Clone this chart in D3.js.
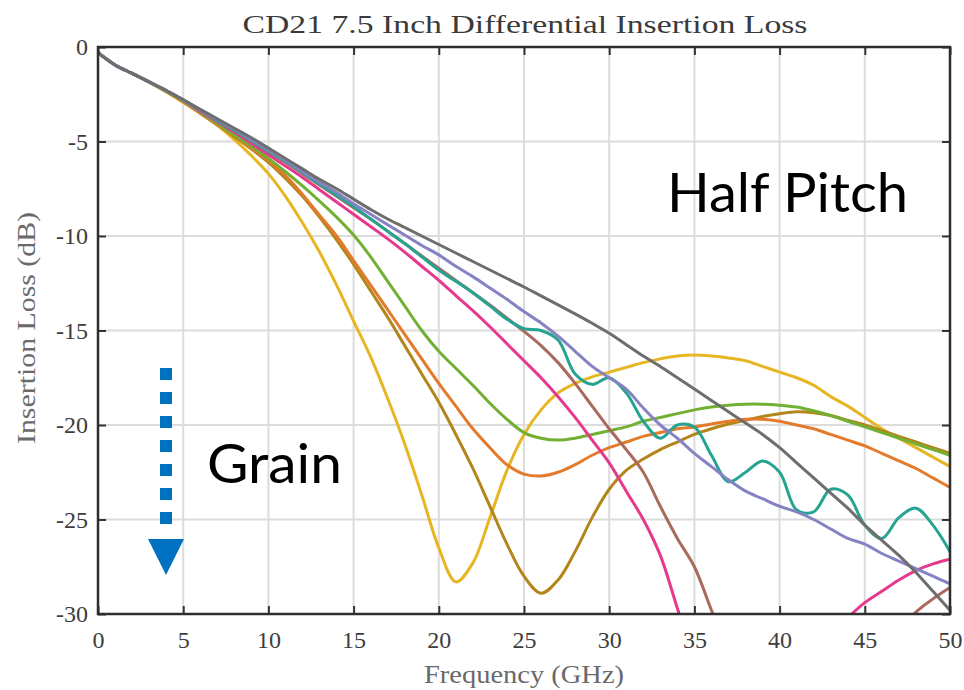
<!DOCTYPE html>
<html>
<head>
<meta charset="utf-8">
<script src="https://cdn.jsdelivr.net/npm/d3@7"></script>
<style>
  html, body { margin: 0; padding: 0; background: #ffffff; }
  svg { display: block; }
</style>
</head>
<body>
<svg id="chart" width="964" height="690"></svg>
<script>
// Frequency grid (GHz) shared by every trace
const frequency = [0,1,2,3,4,5,6,7,8,9,10,11,12,13,14,15,16,17,18,19,20,
  21,22,23,24,25,26,27,28,29,30,31,32,33,34,35,36,37,38,39,40,
  41,42,43,44,45,46,47,48,49,50];

// Insertion loss (dB) of each trace at the frequencies above
const lossGray = [-0.3,-0.95,-1.4,-1.85,-2.3,-2.8,-3.3,-3.8,-4.3,-4.8,
  -5.35,-5.9,-6.45,-7.0,-7.5,-8.05,-8.6,-9.1,-9.55,-10.0,
  -10.45,-10.9,-11.35,-11.8,-12.25,-12.7,-13.17,-13.64,-14.12,-14.62,
  -15.15,-15.75,-16.35,-16.9,-17.5,-18.1,-18.7,-19.3,-19.9,-20.5,
  -21.2,-22.0,-22.8,-23.6,-24.4,-25.3,-26.1,-26.9,-27.8,-28.8,-29.8];
const lossPurple = [-0.3,-0.95,-1.4,-1.85,-2.3,-2.8,-3.35,-3.85,-4.35,-4.9,
  -5.45,-6.0,-6.6,-7.15,-7.7,-8.3,-8.85,-9.4,-9.95,-10.5,
  -11.0,-11.6,-12.15,-12.75,-13.35,-14.0,-14.6,-15.3,-16.1,-16.9,
  -17.5,-18.1,-19.1,-20.0,-20.7,-21.5,-22.2,-22.9,-23.5,-23.9,
  -24.3,-24.6,-25.0,-25.5,-26.0,-26.3,-26.8,-27.2,-27.6,-28.0,-28.4];
const lossTeal = [-0.3,-0.95,-1.4,-1.85,-2.3,-2.8,-3.35,-3.9,-4.4,-4.95,
  -5.5,-6.05,-6.65,-7.25,-7.85,-8.45,-9.1,-9.75,-10.4,-11.1,
  -11.8,-12.4,-13.0,-13.7,-14.4,-14.9,-15.0,-15.5,-17.3,-17.85,
  -17.5,-18.3,-19.8,-20.7,-20.0,-20.1,-21.6,-23.0,-22.5,-21.9,
  -22.5,-24.5,-24.6,-23.4,-23.7,-25.3,-26.0,-24.9,-24.4,-25.3,-26.7];
const lossBrown = [-0.3,-0.95,-1.4,-1.85,-2.3,-2.8,-3.35,-3.9,-4.4,-4.98,
  -5.55,-6.1,-6.7,-7.3,-7.9,-8.5,-9.1,-9.75,-10.4,-11.05,
  -11.7,-12.35,-13.0,-13.65,-14.35,-15.05,-15.8,-16.7,-17.8,-19.0,
  -20.2,-21.3,-22.5,-24.3,-26.0,-27.5,-29.8,-32.0,-34.0,-35.5,
  -36.5,-37.0,-37.0,-36.0,-35.0,-33.5,-32.2,-31.0,-29.9,-29.2,-28.6];
const lossPink = [-0.3,-0.95,-1.4,-1.85,-2.3,-2.8,-3.4,-3.95,-4.5,-5.1,
  -5.7,-6.3,-6.9,-7.55,-8.2,-8.85,-9.5,-10.15,-10.85,-11.6,
  -12.35,-13.15,-13.95,-14.8,-15.7,-16.6,-17.5,-18.5,-19.6,-20.8,
  -22.0,-23.5,-25.0,-26.9,-29.7,-32.5,-34.0,-35.0,-35.5,-35.3,
  -34.5,-33.4,-32.2,-31.1,-30.2,-29.4,-28.8,-28.2,-27.7,-27.35,-27.1];
const lossGreen = [-0.3,-0.95,-1.4,-1.85,-2.35,-2.85,-3.45,-4.05,-4.65,-5.25,
  -5.9,-6.6,-7.35,-8.15,-9.0,-9.95,-11.1,-12.4,-13.7,-15.0,
  -16.1,-17.0,-17.9,-18.85,-19.7,-20.4,-20.7,-20.8,-20.7,-20.5,
  -20.3,-20.1,-19.8,-19.6,-19.4,-19.2,-19.05,-18.95,-18.9,-18.9,
  -18.95,-19.05,-19.25,-19.5,-19.8,-20.1,-20.4,-20.7,-21.0,-21.3,-21.6];
const lossOrange = [-0.3,-0.95,-1.4,-1.85,-2.35,-2.9,-3.5,-4.1,-4.7,-5.35,
  -6.0,-6.8,-7.8,-8.9,-10.0,-11.3,-12.6,-13.9,-15.2,-16.5,
  -17.8,-19.0,-20.2,-21.2,-22.1,-22.6,-22.7,-22.5,-22.1,-21.6,
  -21.2,-20.9,-20.6,-20.4,-20.2,-20.1,-19.95,-19.8,-19.7,-19.7,
  -19.8,-20.0,-20.2,-20.5,-20.8,-21.1,-21.5,-21.9,-22.3,-22.8,-23.3];
const lossOchre = [-0.3,-0.95,-1.4,-1.85,-2.35,-2.9,-3.5,-4.1,-4.75,-5.4,
  -6.1,-6.95,-7.9,-9.0,-10.2,-11.5,-12.9,-14.3,-15.8,-17.3,
  -18.8,-20.5,-22.3,-24.3,-26.3,-28.0,-28.9,-28.2,-26.7,-24.9,
  -23.4,-22.4,-21.8,-21.3,-20.9,-20.5,-20.2,-19.95,-19.75,-19.55,
  -19.4,-19.3,-19.35,-19.5,-19.75,-20.0,-20.3,-20.6,-20.9,-21.2,-21.5];
const lossYellow = [-0.3,-0.95,-1.4,-1.87,-2.37,-2.93,-3.5,-4.15,-4.9,-5.75,
  -6.7,-7.9,-9.3,-10.85,-12.6,-14.5,-16.4,-18.6,-21.0,-23.7,
  -26.5,-28.3,-27.3,-24.9,-22.4,-20.5,-19.2,-18.3,-17.8,-17.45,
  -17.2,-16.95,-16.7,-16.5,-16.35,-16.3,-16.35,-16.45,-16.6,-16.9,
  -17.2,-17.5,-17.9,-18.5,-19.0,-19.6,-20.2,-20.7,-21.2,-21.7,-22.2];

// Axis ticks
const xTicks = [0,5,10,15,20,25,30,35,40,45,50];
const yTicks = [0,-5,-10,-15,-20,-25,-30];

// Traces in drawing order (later ones sit on top)
const traces = [
  { values: lossYellow, color: "#e6b623" },
  { values: lossOchre,  color: "#b3861c" },
  { values: lossOrange, color: "#e37a2c" },
  { values: lossGreen,  color: "#72b034" },
  { values: lossPink,   color: "#e6388c" },
  { values: lossBrown,  color: "#a86b5e" },
  { values: lossTeal,   color: "#26a391" },
  { values: lossPurple, color: "#8583c4" },
  { values: lossGray,   color: "#6e6e6e" }
];

const svg = d3.select("#chart");
const plot = { left: 98, right: 950, top: 47, bottom: 614 };

const x = d3.scaleLinear().domain([0, 50]).range([plot.left, plot.right]);
const y = d3.scaleLinear().domain([-30, 0]).range([plot.bottom, plot.top]);

svg.append("defs").append("clipPath").attr("id", "plot-clip")
  .append("rect")
  .attr("x", plot.left).attr("y", plot.top)
  .attr("width", plot.right - plot.left)
  .attr("height", plot.bottom - plot.top);

// Grid
const grid = svg.append("g").attr("stroke", "#dcdcdc").attr("stroke-width", 2);
grid.selectAll("line.gx").data(xTicks.slice(1, -1)).join("line")
  .attr("x1", d => x(d)).attr("x2", d => x(d))
  .attr("y1", plot.top).attr("y2", plot.bottom);
grid.selectAll("line.gy").data(yTicks.slice(1, -1)).join("line")
  .attr("x1", plot.left).attr("x2", plot.right)
  .attr("y1", d => y(d)).attr("y2", d => y(d));

// Traces
const line = d3.line()
  .x((d, i) => x(frequency[i]))
  .y(d => y(d))
  .curve(d3.curveCatmullRom.alpha(0.5));

svg.append("g").attr("clip-path", "url(#plot-clip)")
  .selectAll("path").data(traces).join("path")
  .attr("d", d => line(d.values))
  .attr("fill", "none")
  .attr("stroke", d => d.color)
  .attr("stroke-width", 3)
  .attr("stroke-linejoin", "round")
  .attr("stroke-linecap", "round");

// Axes with inward ticks on all four sides
const tickFont = "'Liberation Serif', 'Times New Roman', serif";
function styleAxis(g) {
  g.select(".domain").remove();
  g.selectAll(".tick line").attr("stroke", "#333").attr("stroke-width", 2);
  g.selectAll(".tick text")
    .attr("fill", "#3d3d3d")
    .style("font-family", tickFont)
    .style("font-size", "24px");
}

svg.append("g").attr("transform", `translate(0,${plot.bottom})`)
  .call(d3.axisBottom(x).tickValues(xTicks).tickSize(-8).tickPadding(17).tickFormat(d3.format("d")))
  .call(styleAxis);
svg.append("g").attr("transform", `translate(0,${plot.top})`)
  .call(d3.axisTop(x).tickValues(xTicks).tickSize(-8).tickFormat(""))
  .call(styleAxis);
svg.append("g").attr("transform", `translate(${plot.left},0)`)
  .call(d3.axisLeft(y).tickValues(yTicks).tickSize(-8).tickPadding(10)
    .tickFormat(d => d < 0 ? "-" + Math.abs(d) : String(d)))
  .call(styleAxis);
svg.append("g").attr("transform", `translate(${plot.right},0)`)
  .call(d3.axisRight(y).tickValues(yTicks).tickSize(-8).tickFormat(""))
  .call(styleAxis);

// Frame
svg.append("rect")
  .attr("x", plot.left).attr("y", plot.top)
  .attr("width", plot.right - plot.left)
  .attr("height", plot.bottom - plot.top)
  .attr("fill", "none").attr("stroke", "#2e2e2e").attr("stroke-width", 2.5);

// Title and axis labels
svg.append("text")
  .attr("x", 525).attr("y", 33)
  .attr("text-anchor", "middle")
  .attr("textLength", 565).attr("lengthAdjust", "spacingAndGlyphs")
  .style("font-family", tickFont).style("font-size", "26px")
  .attr("fill", "#3a3a3a")
  .text("CD21 7.5 Inch Differential Insertion Loss");

svg.append("text")
  .attr("x", 524).attr("y", 683)
  .attr("text-anchor", "middle")
  .attr("textLength", 200).attr("lengthAdjust", "spacingAndGlyphs")
  .style("font-family", tickFont).style("font-size", "25px")
  .attr("fill", "#6a6a6a")
  .text("Frequency (GHz)");

svg.append("text")
  .attr("transform", "translate(35,328) rotate(-90)")
  .attr("text-anchor", "middle")
  .attr("textLength", 232).attr("lengthAdjust", "spacingAndGlyphs")
  .style("font-family", tickFont).style("font-size", "25px")
  .attr("fill", "#6a6a6a")
  .text("Insertion Loss (dB)");

// Annotations
const noteFont = "Lato, 'Open Sans', sans-serif";
svg.append("text")
  .attr("x", 667).attr("y", 212)
  .attr("textLength", 241).attr("lengthAdjust", "spacingAndGlyphs")
  .style("font-family", noteFont).style("font-size", "55px")
  .attr("fill", "#000")
  .text("Half Pitch");

svg.append("text")
  .attr("x", 207).attr("y", 483)
  .attr("textLength", 135).attr("lengthAdjust", "spacingAndGlyphs")
  .style("font-family", noteFont).style("font-size", "55px")
  .attr("fill", "#000")
  .text("Grain");

// Dotted arrow pointing down
const arrow = svg.append("g").attr("fill", "#0070c0").attr("stroke", "none");
arrow.append("line")
  .attr("x1", 166).attr("x2", 166)
  .attr("y1", 368).attr("y2", 526)
  .attr("stroke", "#0070c0").attr("stroke-width", 12)
  .attr("stroke-dasharray", "12 12");
arrow.append("path")
  .attr("d", d3.line()([[148, 539], [184, 539], [166, 575]]) + "Z");
</script>
</body>
</html>
